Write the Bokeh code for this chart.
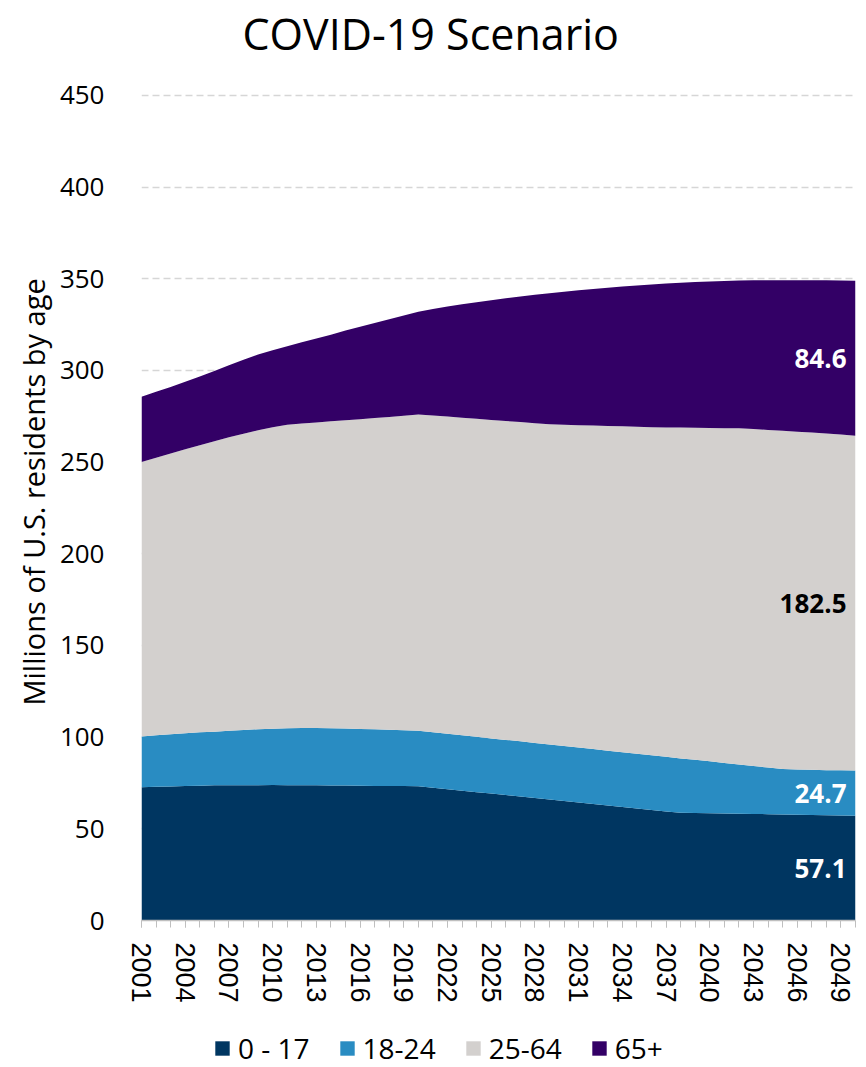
from bokeh.plotting import figure
from bokeh.layouts import column
from bokeh.models import (ColumnDataSource, Range1d, FixedTicker, Legend, LegendItem,
                          CustomJSTickFormatter, Title)
from bokeh.core.properties import value
from bokeh.embed import file_html
from bokeh.resources import INLINE

# U.S. residents by age group, millions (COVID-19 scenario)
years = list(range(2001, 2051))

age_0_17 = [72.6, 72.9, 73.1, 73.3, 73.5, 73.7, 73.8, 73.8, 73.8, 73.9,
            73.8, 73.7, 73.7, 73.6, 73.6, 73.5, 73.4, 73.4, 73.3, 73.2,
            72.4, 71.6, 70.8, 70.0, 69.2, 68.4, 67.6, 66.8, 66.0, 65.2,
            64.4, 63.5, 62.7, 61.9, 61.1, 60.3, 59.5, 58.7, 58.6, 58.5,
            58.4, 58.2, 58.1, 58.0, 57.8, 57.7, 57.6, 57.4, 57.3, 57.1]

age_18_24 = [27.8, 28.1, 28.5, 28.8, 29.1, 29.3, 29.7, 30.1, 30.5, 30.7,
             31.0, 31.3, 31.3, 31.3, 31.1, 31.0, 30.9, 30.6, 30.5, 30.3,
             30.3, 30.2, 30.2, 30.2, 30.1, 30.1, 30.1, 30.0, 30.0, 29.9,
             29.9, 30.0, 29.9, 29.9, 29.9, 29.8, 29.8, 29.7, 29.0, 28.3,
             27.5, 26.9, 26.2, 25.4, 24.8, 24.7, 24.6, 24.6, 24.6, 24.7]

age_25_64 = [149.6, 151.4, 153.1, 154.9, 156.6, 158.4, 160.0, 161.6, 163.0, 164.4,
             165.6, 166.0, 166.6, 167.3, 168.1, 168.9, 169.7, 170.6, 171.5, 172.5,
             172.7, 173.0, 173.2, 173.4, 173.7, 173.9, 174.1, 174.4, 174.6, 175.3,
             175.8, 176.4, 177.1, 177.7, 178.2, 178.9, 179.6, 180.4, 181.1, 181.8,
             182.6, 183.3, 183.7, 184.1, 184.5, 184.2, 183.9, 183.6, 183.1, 182.5]

age_65_plus = [35.6, 35.9, 36.3, 36.8, 37.5, 38.3, 39.3, 40.3, 41.3, 42.0,
               42.8, 44.3, 45.8, 47.3, 48.9, 50.4, 51.9, 53.3, 54.7, 56.0,
               58.1, 60.1, 61.9, 63.6, 65.3, 66.9, 68.5, 70.0, 71.5, 72.5,
               73.6, 74.5, 75.4, 76.2, 77.1, 77.9, 78.5, 79.0, 79.5, 79.9,
               80.3, 80.6, 81.1, 81.7, 82.1, 82.6, 83.1, 83.5, 84.0, 84.6]

group_names = ["0 - 17", "18-24", "25-64", "65+"]
group_keys = ["age_0_17", "age_18_24", "age_25_64", "age_65_plus"]
group_colors = ["#003661", "#298CC2", "#D3D0CE", "#330066"]
label_colors = ["#FFFFFF", "#FFFFFF", "#000000", "#FFFFFF"]

year_ticks = [2001, 2004, 2007, 2010, 2013, 2016, 2019, 2022, 2025,
              2028, 2031, 2034, 2037, 2040, 2043, 2046, 2049]
value_ticks = [0, 50, 100, 150, 200, 250, 300, 350, 400, 450]

source = ColumnDataSource(data=dict(
    year=years,
    age_0_17=age_0_17,
    age_18_24=age_18_24,
    age_25_64=age_25_64,
    age_65_plus=age_65_plus,
))

# the top of the value range sits a hair above 450 so its grid line is not clipped
p = figure(width=866, height=1005, output_backend="svg", toolbar_location=None,
           x_range=Range1d(2001, 2050), y_range=Range1d(0, 451),
           min_border_left=141, min_border_right=11,
           min_border_top=93, min_border_bottom=84)
p.outline_line_color = None
p.background_fill_color = "white"
p.border_fill_color = "white"

# title, lifted away from the plot area by an empty spacer line
p.title.text = "COVID-19 Scenario"
p.title.text_font = "Open Sans"
p.title.text_font_size = "43px"
p.title.text_font_style = "normal"
p.title.text_color = "#000000"
p.title.align = "left"
p.title.offset = 101
p.title.vertical_align = "top"
p.title.standoff = 4
p.add_layout(Title(text=" ", text_font_size="22px", standoff=0), "above")

# stacked areas
renderers = p.varea_stack(stackers=group_keys, x="year", color=group_colors, source=source)

# grid
p.xgrid.visible = False
p.ygrid.ticker = FixedTicker(ticks=value_ticks[1:])
p.ygrid.grid_line_color = "#D6D6D6"
p.ygrid.grid_line_dash = "7 4"
p.ygrid.grid_line_width = 1.5
p.ygrid.level = "underlay"

# y axis
ya = p.yaxis[0]
ya.ticker = FixedTicker(ticks=value_ticks)
ya.axis_line_color = None
ya.major_tick_line_color = None
ya.minor_tick_line_color = None
ya.major_label_text_font = "Open Sans"
ya.major_label_text_font_size = "26px"
ya.major_label_text_color = "#000000"
ya.major_label_standoff = 31
ya.axis_label = "\u00a0\u00a0\u00a0\u00a0Millions of U.S. residents by age"
ya.axis_label_text_font = "Open Sans"
ya.axis_label_text_font_size = "29px"
ya.axis_label_text_font_style = "normal"
ya.axis_label_text_color = "#000000"
ya.axis_label_standoff = 4

# x axis
xa = p.xaxis[0]
xa.ticker = FixedTicker(ticks=year_ticks, minor_ticks=years)
xa.formatter = CustomJSTickFormatter(code="return String(tick)")
xa.axis_line_color = "#BFBFBF"
xa.axis_line_width = 1.3
xa.major_tick_line_color = "#BFBFBF"
xa.minor_tick_line_color = "#BFBFBF"
xa.major_tick_out = 7
xa.major_tick_in = 0
xa.minor_tick_out = 7
xa.minor_tick_in = 0
xa.major_label_orientation = "vertical"
xa.major_label_text_font = "Liberation Sans"
xa.major_label_text_font_size = "27px"
xa.major_label_text_color = "#000000"
xa.major_label_standoff = 15

# value labels for the last year, centred in each band
last = len(years) - 1
last_vals = [age_0_17[last], age_18_24[last], age_25_64[last], age_65_plus[last]]
mids = []
base = 0.0
for v in last_vals:
    mids.append(base + v / 2.0)
    base += v
lab_src = ColumnDataSource(data=dict(
    x=[years[last]] * 4,
    y=mids,
    text=["%.1f" % v for v in last_vals],
    color=label_colors,
))
p.text(x="x", y="y", text="text", source=lab_src, text_color="color",
       text_align="right", text_baseline="middle", x_offset=-9,
       text_font=value("Open Sans"), text_font_size="26px", text_font_style="bold")

# legend strip under the chart; its areas lie outside the strip's ranges,
# so only their legend swatches show
lg = figure(width=866, height=62, output_backend="svg", toolbar_location=None,
            x_range=Range1d(0, 1), y_range=Range1d(0, 1),
            x_axis_location=None, y_axis_location=None, min_border=0)
lg.outline_line_color = None
lg.grid.visible = False
swatches = lg.varea_stack(stackers=group_keys, x="year", color=group_colors, source=source)
legend = Legend(items=[LegendItem(label=n, renderers=[r]) for n, r in zip(group_names, swatches)],
                orientation="horizontal", location=(72, 0),
                border_line_color=None, background_fill_alpha=0,
                padding=0, margin=0, spacing=28,
                glyph_width=18, glyph_height=18, label_standoff=7,
                label_text_font="Open Sans", label_text_font_size="28px",
                label_text_color="#000000")
lg.add_layout(legend, "center")

layout = column(p, lg, spacing=0)
open("out.html", "w").write(file_html(layout, INLINE))
